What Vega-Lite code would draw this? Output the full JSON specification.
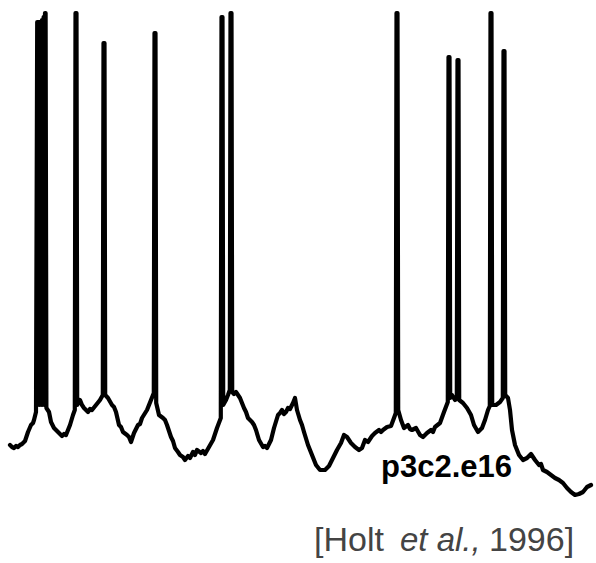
{
  "$schema": "https://vega.github.io/schema/vega-lite/v6.json",
  "width": 596,
  "height": 563,
  "autosize": {"type": "fit", "contains": "padding"},
  "padding": 0,
  "background": "white",
  "config": {"view": {"stroke": null}},
  "datasets": {
    "trace": [
      {"t":10,"v":118},{"t":12,"v":116},{"t":14,"v":115},{"t":16,"v":117},{"t":18,"v":116},{"t":20,"v":118},{"t":22,"v":119},{"t":25,"v":122},{"t":27,"v":128},{"t":28,"v":131},{"t":31,"v":138},{"t":33,"v":140},{"t":34,"v":143},{"t":36,"v":151},
      {"t":37.2,"v":541},{"t":38,"v":158},{"t":38.8,"v":541},{"t":39.6,"v":158},{"t":40.4,"v":541},{"t":41.2,"v":158},{"t":42,"v":543},{"t":42.8,"v":158},{"t":43.6,"v":546},{"t":44.4,"v":158},{"t":45,"v":550},{"t":45.6,"v":550},{"t":46.4,"v":155},
      {"t":49,"v":151},{"t":51,"v":141},{"t":54,"v":135},{"t":56,"v":133},{"t":58,"v":131},{"t":62,"v":127},{"t":64,"v":129},{"t":66,"v":128},{"t":70,"v":138},{"t":73,"v":148},{"t":74.8,"v":153},{"t":75.5,"v":550},{"t":76.5,"v":550},{"t":77.2,"v":158},
      {"t":80,"v":163},{"t":82,"v":158},{"t":84,"v":155},{"t":88,"v":151},{"t":90,"v":154},{"t":92,"v":153},{"t":96,"v":158},{"t":100,"v":163},{"t":102.8,"v":168},{"t":103.5,"v":520},{"t":104.5,"v":520},{"t":105.2,"v":168},
      {"t":108,"v":165},{"t":112,"v":158},{"t":114,"v":156},{"t":116,"v":151},{"t":119,"v":138},{"t":121,"v":136},{"t":123,"v":131},{"t":127,"v":128},{"t":129,"v":126},{"t":131,"v":121},{"t":134,"v":130},{"t":138,"v":138},{"t":140,"v":139},{"t":142,"v":145},{"t":147,"v":153},{"t":151,"v":163},{"t":153.8,"v":170},{"t":154.5,"v":530},{"t":155.5,"v":530},{"t":156.2,"v":160},
      {"t":159,"v":148},{"t":163,"v":145},{"t":165,"v":143},{"t":167,"v":138},{"t":171,"v":126},{"t":173,"v":122},{"t":175,"v":115},{"t":178,"v":111},{"t":180,"v":108},{"t":183,"v":106},{"t":185,"v":103},{"t":188,"v":107},{"t":190,"v":105},{"t":193,"v":111},{"t":195,"v":108},{"t":197,"v":113},{"t":201,"v":110},{"t":203,"v":112},{"t":205,"v":109},{"t":209,"v":116},{"t":213,"v":123},{"t":217,"v":135},{"t":220.8,"v":145},
      {"t":221.5,"v":546},{"t":222.5,"v":546},{"t":223.2,"v":158},{"t":226,"v":163},{"t":228,"v":168},{"t":229.8,"v":173},{"t":230.5,"v":550},{"t":231.5,"v":550},{"t":232.2,"v":171},
      {"t":234,"v":169},{"t":236,"v":171},{"t":240,"v":165},{"t":244,"v":155},{"t":246,"v":151},{"t":248,"v":145},{"t":252,"v":141},{"t":254,"v":138},{"t":256,"v":133},{"t":259,"v":123},{"t":263,"v":116},{"t":265,"v":117},{"t":267,"v":115},{"t":271,"v":123},{"t":274,"v":135},{"t":278,"v":148},{"t":280,"v":150},{"t":282,"v":153},{"t":284,"v":149},{"t":286,"v":151},{"t":288,"v":155},{"t":290,"v":154},{"t":293,"v":160},{"t":295,"v":165},{"t":297,"v":153},
      {"t":300,"v":143},{"t":302,"v":138},{"t":304,"v":131},{"t":308,"v":118},{"t":312,"v":108},{"t":316,"v":98},{"t":320,"v":93},{"t":325,"v":93},{"t":329,"v":97},{"t":333,"v":105},{"t":337,"v":113},{"t":341,"v":120},{"t":344,"v":128},{"t":347,"v":126},{"t":351,"v":120},{"t":355,"v":116},{"t":359,"v":113},{"t":362,"v":115},{"t":365,"v":123},{"t":368,"v":121},{"t":372,"v":127},{"t":375,"v":130},{"t":379,"v":133},{"t":381,"v":131},{"t":383,"v":133},{"t":387,"v":136},{"t":391,"v":137},{"t":394,"v":145},{"t":395.8,"v":150},
      {"t":396.5,"v":550},{"t":397.5,"v":550},{"t":398.2,"v":153},{"t":401,"v":143},{"t":404,"v":135},{"t":408,"v":138},{"t":410,"v":134},{"t":412,"v":133},{"t":416,"v":135},{"t":420,"v":128},{"t":423,"v":126},{"t":427,"v":130},{"t":431,"v":133},{"t":433,"v":131},{"t":435,"v":136},{"t":440,"v":140},{"t":444,"v":151},{"t":447.8,"v":161},
      {"t":448.5,"v":506},{"t":449.5,"v":506},{"t":450.2,"v":165},{"t":452,"v":168},{"t":455,"v":163},{"t":456.8,"v":165},{"t":457.5,"v":503},{"t":458.5,"v":503},{"t":459.2,"v":163},
      {"t":463,"v":160},{"t":467,"v":155},{"t":471,"v":148},{"t":474,"v":138},{"t":478,"v":131},{"t":482,"v":135},{"t":485,"v":143},{"t":488,"v":153},{"t":489.8,"v":157},
      {"t":490.5,"v":550},{"t":491.5,"v":550},{"t":492.2,"v":158},{"t":496,"v":158},{"t":500,"v":161},{"t":502.8,"v":165},{"t":503.5,"v":512},{"t":504.5,"v":512},{"t":505.2,"v":168},
      {"t":508,"v":165},{"t":510,"v":153},{"t":512,"v":133},{"t":515,"v":118},{"t":519,"v":108},{"t":523,"v":103},{"t":527,"v":105},{"t":531,"v":109},{"t":535,"v":103},{"t":539,"v":98},{"t":541,"v":99},{"t":543,"v":93},{"t":547,"v":91},{"t":551,"v":88},{"t":555,"v":85},{"t":559,"v":83},{"t":563,"v":80},{"t":567,"v":75},{"t":571,"v":71},{"t":575,"v":68},{"t":579,"v":69},{"t":583,"v":71},{"t":587,"v":76},{"t":591,"v":78}
    ],
    "label": [{"t": 381, "v": 86, "text": "p3c2.e16"}],
    "citeNormal": [
      {"t": 314, "v": 12, "text": "[Holt"},
      {"t": 489, "v": 12, "text": "1996]"}
    ],
    "citeItalic": [{"t": 400, "v": 12, "text": "et al.,"}]
  },
  "layer": [
    {
      "data": {"name": "trace"},
      "mark": {"type": "line", "color": "black", "strokeWidth": 4.2, "strokeJoin": "round", "strokeCap": "round"},
      "encoding": {
        "x": {"field": "t", "type": "quantitative", "axis": null, "scale": {"domain": [0, 596], "nice": false, "zero": false}},
        "y": {"field": "v", "type": "quantitative", "axis": null, "scale": {"domain": [0, 563], "nice": false, "zero": false}}
      }
    },
    {
      "data": {"name": "label"},
      "mark": {"type": "text", "align": "left", "baseline": "alphabetic", "font": "Liberation Sans", "fontWeight": "bold", "fontSize": 31, "color": "black"},
      "encoding": {
        "x": {"field": "t", "type": "quantitative"},
        "y": {"field": "v", "type": "quantitative"},
        "text": {"field": "text"}
      }
    },
    {
      "data": {"name": "citeNormal"},
      "mark": {"type": "text", "align": "left", "baseline": "alphabetic", "font": "Liberation Sans", "fontSize": 34, "color": "#444444"},
      "encoding": {
        "x": {"field": "t", "type": "quantitative"},
        "y": {"field": "v", "type": "quantitative"},
        "text": {"field": "text"}
      }
    },
    {
      "data": {"name": "citeItalic"},
      "mark": {"type": "text", "align": "left", "baseline": "alphabetic", "font": "Liberation Sans", "fontStyle": "italic", "fontSize": 33, "color": "#444444"},
      "encoding": {
        "x": {"field": "t", "type": "quantitative"},
        "y": {"field": "v", "type": "quantitative"},
        "text": {"field": "text"}
      }
    }
  ]
}
